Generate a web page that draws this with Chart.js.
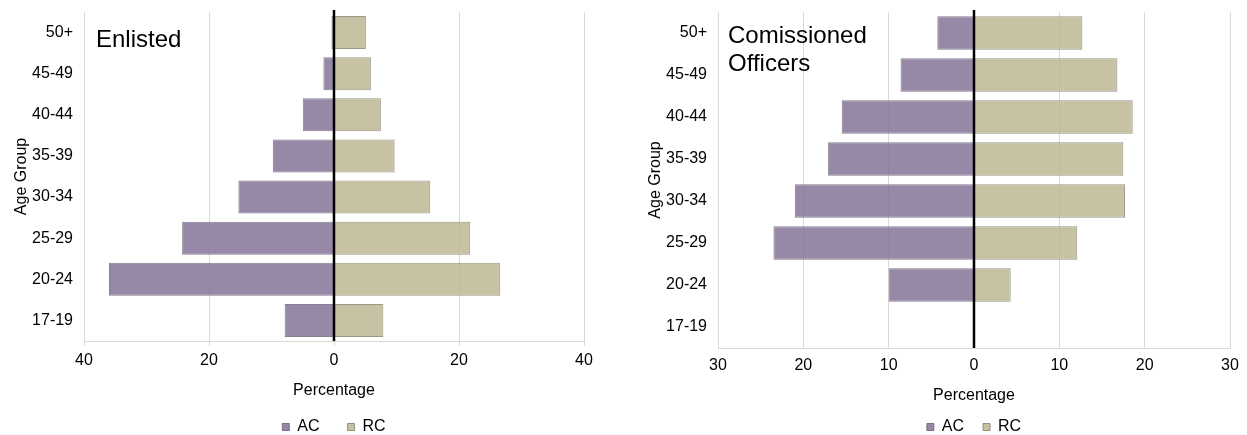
<!DOCTYPE html>
<html>
<head>
<meta charset="utf-8">
<script src="https://cdn.jsdelivr.net/npm/chart.js@4/dist/chart.umd.min.js"></script>
<style>
  body { margin: 0; background: #fff; overflow: hidden; }
  canvas { position: absolute; top: 0; }
  #enlisted { left: 0; }
  #officers { left: 634px; }
</style>
</head>
<body>
<canvas id="enlisted" width="620" height="445"></canvas>
<canvas id="officers" width="613" height="445"></canvas>
<script>
const ageGroups = ['50+', '45-49', '40-44', '35-39', '30-34', '25-29', '20-24', '17-19'];
const enlistedAC = [0.4, 1.7, 5.0, 9.8, 15.3, 24.3, 36.0, 7.9];
const enlistedRC = [5.1, 5.9, 7.5, 9.7, 15.4, 21.8, 26.6, 7.9];
const officerAC = [4.3, 8.6, 15.5, 17.1, 21.0, 23.5, 10.0, 0];
const officerRC = [12.7, 16.8, 18.6, 17.5, 17.7, 12.1, 4.3, 0];
const seriesNames = ['AC', 'RC'];

const FONT = '"Liberation Sans", Arial, sans-serif';
Chart.defaults.font.family = FONT;
Chart.defaults.color = '#000';

// title text inside plot + black zero line
const panelPlugin = {
  id: 'panel',
  afterDatasetsDraw(chart, args, opts) {
    const ctx = chart.ctx;
    const area = chart.chartArea;
    const x0 = chart.scales.x.getPixelForValue(0);
    ctx.save();
    ctx.strokeStyle = '#000';
    ctx.lineWidth = 2.5;
    ctx.beginPath();
    ctx.moveTo(x0, area.top - 2);
    ctx.lineTo(x0, area.bottom);
    ctx.stroke();
    ctx.fillStyle = '#000';
    ctx.font = '24px ' + FONT;
    ctx.textBaseline = 'alphabetic';
    opts.lines.forEach((t, i) => {
      ctx.fillText(t, area.left + opts.dx, opts.y + i * 28);
    });
    ctx.restore();
  }
};

function makeChart(id, ac, rc, limit, step, cfg) {
  new Chart(document.getElementById(id), {
    type: 'bar',
    data: {
      labels: ageGroups,
      datasets: [{
        label: seriesNames[0],
        data: ac.map(v => -v),
        backgroundColor: 'rgba(137, 119, 156, 0.88)',
        borderColor: 'rgba(95, 85, 110, 0.75)',
        borderWidth: 1
      }, {
        label: seriesNames[1],
        data: rc,
        backgroundColor: 'rgba(190, 185, 150, 0.88)',
        borderColor: 'rgba(120, 117, 95, 0.75)',
        borderWidth: 1
      }]
    },
    options: {
      indexAxis: 'y',
      responsive: false,
      animation: false,
      layout: { padding: { top: 12, right: cfg.padRight, left: 0, bottom: 0 } },
      datasets: { bar: { barPercentage: 0.8, categoryPercentage: 1.0 } },
      scales: {
        x: {
          stacked: true,
          min: -limit,
          max: limit,
          afterFit: s => { s.height = cfg.xHeight; },
          ticks: {
            stepSize: step,
            padding: cfg.tickPad,
            font: { size: 16 },
            callback: v => Math.abs(v)
          },
          grid: { color: '#d9d9d9', drawTicks: cfg.drawTicks, tickLength: 5 },
          border: { color: '#d9d9d9' },
          title: {
            display: true,
            text: 'Percentage',
            font: { size: 16 },
            padding: { top: 0, bottom: cfg.titlePad }
          }
        },
        y: {
          stacked: true,
          afterFit: s => { s.width = 84; },
          // hidden tick length gives the label gap without adding top padding
          grid: { display: false, drawTicks: true, tickLength: 11 },
          border: { display: false },
          ticks: { padding: 0, font: { size: 16 } },
          title: {
            display: true,
            text: 'Age Group',
            font: { size: 16 },
            padding: { top: 12, bottom: 0 }
          }
        }
      },
      plugins: {
        tooltip: { enabled: false },
        legend: {
          position: 'bottom',
          fullSize: false,
          labels: {
            boxWidth: 7,
            boxHeight: 7,
            padding: cfg.legendPad,
            font: { size: 16 },
            color: '#000'
          }
        },
        panel: { lines: cfg.title, dx: cfg.titleDx, y: cfg.titleY }
      }
    },
    plugins: [panelPlugin]
  });
}

makeChart('enlisted', enlistedAC, enlistedRC, 40, 20, {
  padRight: 36, xHeight: 50, tickPad: 5, drawTicks: true, titlePad: -9,
  legendPad: 28, title: ['Enlisted'], titleDx: 12, titleY: 47
});
makeChart('officers', officerAC, officerRC, 30, 10, {
  padRight: 17, xHeight: 52, tickPad: 8, drawTicks: false, titlePad: -5,
  legendPad: 19, title: ['Comissioned', 'Officers'], titleDx: 10, titleY: 43
});
</script>
</body>
</html>
